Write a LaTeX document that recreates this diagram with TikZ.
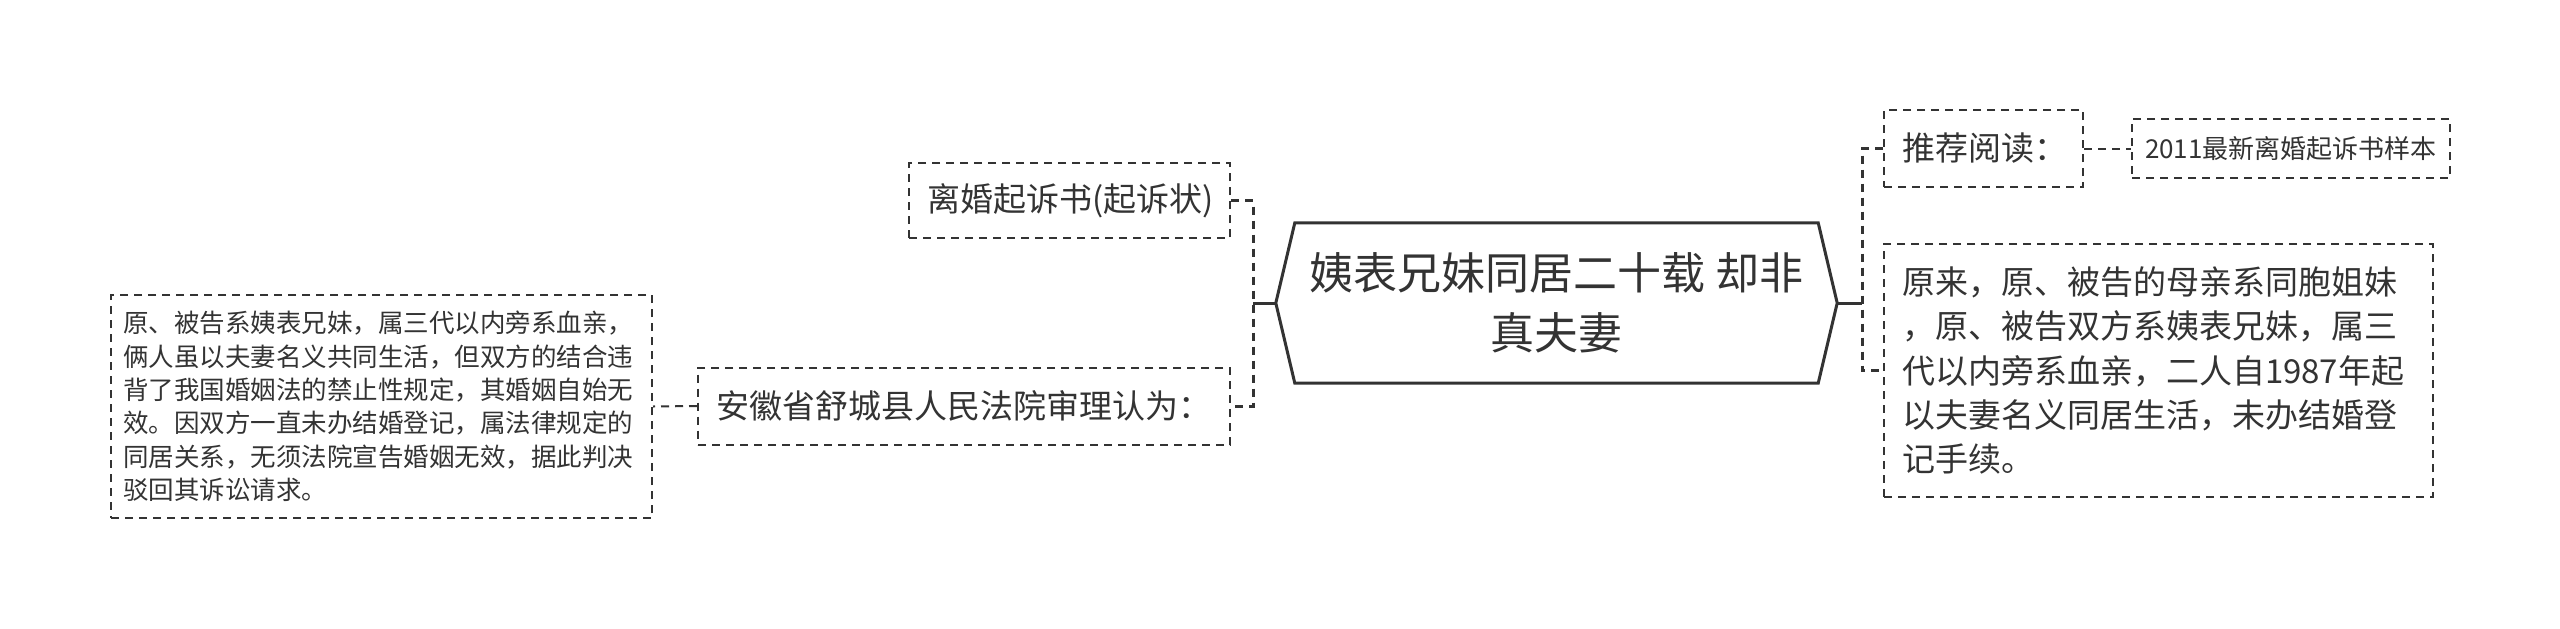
\documentclass[tikz,border=0pt]{standalone}
\usepackage{fontspec}
\setmainfont{Noto Sans CJK SC}
\usetikzlibrary{calc}
\definecolor{ink}{HTML}{333333}
\begin{document}
\begin{tikzpicture}[x=1pt,y=-1pt,
  box/.style={draw=ink, line width=2pt, dash pattern=on 8pt off 6pt, text=ink, inner ysep=0pt, align=left},
  conn/.style={draw=ink, line width=3pt, dash pattern=on 8pt off 6pt},
  link/.style={draw=ink, line width=2pt, dash pattern=on 8pt off 6pt},
  mainline/.style={draw=ink, line width=3pt},
  f33/.style={font=\fontsize{33}{44.25}\selectfont},
  f25/.style={font=\fontsize{25.5}{33.4}\selectfont}]
\useasboundingbox (0,0) rectangle (2560,629);
\fill[white] (0,0) rectangle (2560,629);

% central topic
\node[minimum width=561, minimum height=160, inner sep=0pt, text=ink, align=center,
  font=\fontsize{44}{60}\selectfont] (c) at (1556.5,303) {姨表兄妹同居二十载 却非\\真夫妻};
\draw[mainline, line join=miter]
  (c.west) -- ($(c.north west)+(19,0)$) -- ($(c.north east)+(-19,0)$) -- (c.east)
  -- ($(c.south east)+(-19,0)$) -- ($(c.south west)+(19,0)$) -- cycle;

% left branch
\node[box, f33, minimum height=75, inner xsep=18pt, text width=285pt] (l1) at (1069.5,200.5) {离婚起诉书(起诉状)};
\node[box, f33, minimum height=77, inner xsep=18pt, text width=496pt] (l2) at (964,406) {安徽省舒城县人民法院审理认为：};
\node[box, f25, minimum height=223, inner xsep=12pt, text width=517pt] (l3) at (381.5,406.5) {原、被告系姨表兄妹，属三代以内旁系血亲，\\俩人虽以夫妻名义共同生活，但双方的结合违\\背了我国婚姻法的禁止性规定，其婚姻自始无\\效。因双方一直未办结婚登记，属法律规定的\\同居关系，无须法院宣告婚姻无效，据此判决\\驳回其诉讼请求。};

% right branch
\node[box, f33, minimum height=77, inner xsep=18pt, text width=163pt] (r1) at (1983.5,148.5) {推荐阅读：};
\node[box, font=\fontsize{26}{30}\selectfont, minimum height=59, inner xsep=13pt, text width=292pt] (r3) at (2291,148.5) {2011最新离婚起诉书样本};
\node[box, f33, minimum height=253, inner xsep=18pt, text width=513pt] (r2) at (2158.5,370.5) {原来，原、被告的母亲系同胞姐妹\\，原、被告双方系姨表兄妹，属三\\代以内旁系血亲，二人自1987年起\\以夫妻名义同居生活，未办结婚登\\记手续。};

% connectors
\coordinate (ls) at (1253,303);
\coordinate (rs) at (1862,303);
\draw[mainline] (c.west) -- (ls);
\draw[mainline] (c.east) -- (rs);
\draw[conn] (l1.east) -- (l1.east -| ls) -- (l2.east -| ls) -- (l2.east);
\draw[conn] (r1.west) -- (r1.west -| rs) -- (r2.west -| rs) -- (r2.west);
\draw[link] (l2.west) -- (l3.east);
\draw[link] (r1.east) -- (r3.west);
\end{tikzpicture}
\end{document}
